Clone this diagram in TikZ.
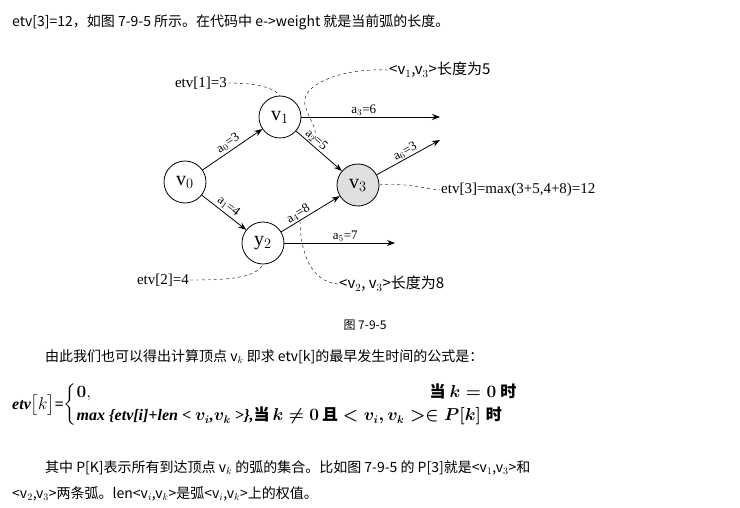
\documentclass[tikz,border=0pt]{standalone}
\usepackage{amsmath}
\usepackage{fontspec}
\setmainfont{Liberation Serif}
\newfontfamily\cjk{Noto Sans CJK SC}
\usetikzlibrary{arrows.meta}
\begin{document}
\begin{tikzpicture}[x=1pt,y=-1pt,
  vert/.style={circle,draw,thick,minimum size=42pt,inner sep=0pt,font=\fontsize{20}{22}\selectfont},
  arc/.style={-{Stealth[length=8pt]},thick},
  lab/.style={font=\fontsize{13}{14}\selectfont,inner sep=1pt},
  big/.style={font=\fontsize{15}{17}\selectfont,inner sep=1pt},
  frm/.style={font=\fontsize{16}{18}\selectfont,inner sep=0pt,anchor=west},
  dsh/.style={dashed,thin},
  txt/.style={anchor=west,font=\cjk\fontsize{14}{16}\selectfont,inner sep=0pt}]
\useasboundingbox (0,0) rectangle (740,508);
\node[txt] (t1) at (12,22) {etv[3]=12，如图 7-9-5 所示。在代码中 e->weight 就是当前弧的长度。};
\node[vert] (v0) at (185,182) {v$_0$};
\node[vert] (v1) at (280,117) {v$_1$};
\node[vert,fill=gray!25] (v3) at (358,185) {v$_3$};
\node[vert] (v2) at (263,243) {y$_2$};
\coordinate (e3) at (440,117);
\coordinate (e6) at (440,140);
\coordinate (e5) at (395,243);
\draw[arc] (v0) -- node[lab,above,sloped,yshift=1pt] {a$_0$=3} (v1);
\draw[arc] (v0) -- node[lab,above,sloped,yshift=1pt] {a$_1$=4} (v2);
\draw[arc] (v1) -- node[lab,above,sloped,pos=0.35] {a$_2$=5} (v3);
\draw[arc] (v2) -- node[lab,above,sloped,pos=0.35] {a$_4$=8} (v3);
\draw[arc] (v1) -- node[lab,above,pos=0.45] {a$_3$=6} (e3);
\draw[arc] (v3) -- node[lab,above,sloped] {a$_6$=3} (e6);
\draw[arc] (v2) -- node[lab,above,pos=0.55] {a$_5$=7} (e5);
\node[big,anchor=east] (l1) at (228,83) {etv[1]=3};
\draw[dsh] (l1.east) .. controls (258,83) and (274,88) .. (v1.north);
\node[big,anchor=west,font=\cjk\fontsize{15}{17}\selectfont] (l13) at (388,70) {<v$_1$,v$_3$>长度为5};
\draw[dsh] (l13.west) .. controls (340,68) and (300,85) .. (305,105) .. controls (308,118) and (318,128) .. (315,140);
\node[big,anchor=west] (l3) at (440,190) {etv[3]=max(3+5,4+8)=12};
\draw[dsh] (v3.east) .. controls (400,182) and (420,188) .. (l3.west);
\node[big,anchor=east] (l2) at (190,280) {etv[2]=4};
\draw[dsh] (l2.east) .. controls (230,280) and (255,278) .. (v2.south);
\node[big,anchor=west,font=\cjk\fontsize{15}{17}\selectfont] (l23) at (338,284) {<v$_2$, v$_3$>长度为8};
\draw[dsh] (l23.west) .. controls (310,282) and (300,250) .. (300,220);
\node[font=\cjk\fontsize{12}{14}\selectfont] (cap) at (365,325) {图 7-9-5};
\node[txt] (t2) at (45,357) {由此我们也可以得出计算顶点 v$_k$ 即求 etv[k]的最早发生时间的公式是：};
\node[frm] (f) at (12,405) {\bfseries\itshape etv$\bigl[k\bigr]$=$\left\{\begin{array}{@{}l@{}l}
\boldsymbol{0}, & \qquad\qquad\qquad\qquad\qquad\quad\text{\cjk\upshape 当} \ \boldsymbol{k=0} \ \text{\cjk\upshape 时}\\[4pt]
\text{max \{etv[i]+len < $\boldsymbol{v_i}$,$\boldsymbol{v_k}$ >\},} & \text{\cjk\upshape 当}\, \boldsymbol{k\neq 0}\, \text{\cjk\upshape 且} \boldsymbol{< v_i,v_k > \in P[k]} \text{\cjk\upshape 时}
\end{array}\right.$};
\node[txt] (t3) at (45,468) {其中 P[K]表示所有到达顶点 v$_k$ 的弧的集合。比如图 7-9-5 的 P[3]就是<v$_1$,v$_3$>和};
\node[txt] (t4) at (12,494) {<v$_2$,v$_3$>两条弧。len<v$_i$,v$_k$>是弧<v$_i$,v$_k$>上的权值。};
\end{tikzpicture}
\end{document}
